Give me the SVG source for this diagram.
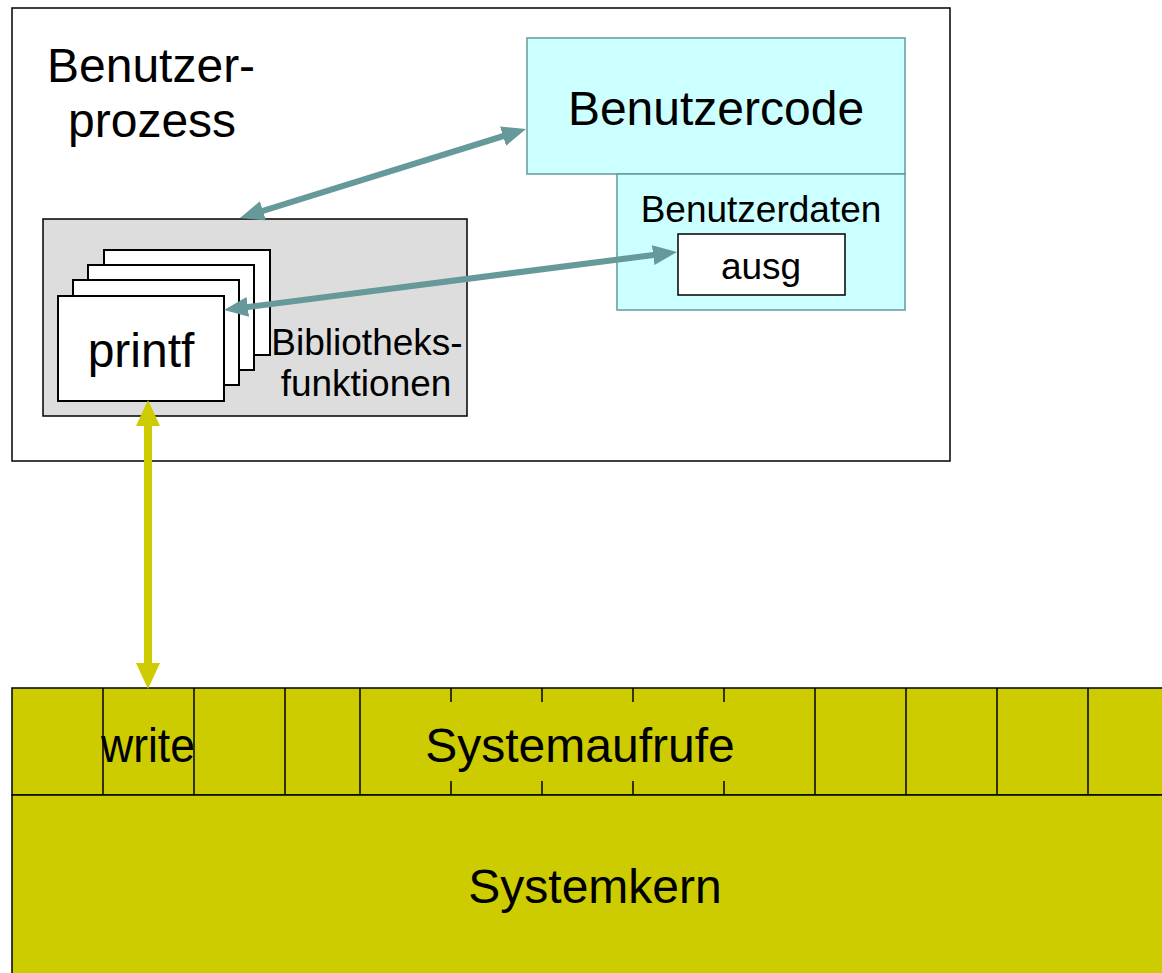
<svg xmlns="http://www.w3.org/2000/svg" width="1162" height="973" viewBox="0 0 1162 973">
  <style>
    text { font-family: "Liberation Sans", Arial, sans-serif; fill: #000; }
    .big { font-size: 48px; }
    .mid { font-size: 37px; }
    .frame { fill: #fff; stroke: #000; stroke-width: 1.5; }
    .mem { fill: #ccffff; stroke: #669999; stroke-width: 1.5; }
    .lib { fill: #dddddd; stroke: #000; stroke-width: 1.5; }
    .card { fill: #fff; stroke: #000; stroke-width: 2; }
    .sys { fill: #cccc00; stroke: #000; stroke-width: 1.5; }
    .div { stroke: #000; stroke-width: 1.5; }
    .teal { stroke: #669999; stroke-width: 6; fill: none; }
    .yellow { stroke: #cccc00; stroke-width: 8; fill: none; }
  </style>
  <defs>
    <marker id="headTeal" markerUnits="userSpaceOnUse" markerWidth="24" markerHeight="20" refX="12" refY="10" orient="auto-start-reverse">
      <path d="M0,0 L24,10 L0,20 z" fill="#669999"/>
    </marker>
    <marker id="headYellow" markerUnits="userSpaceOnUse" markerWidth="26" markerHeight="24" refX="13" refY="12" orient="auto-start-reverse">
      <path d="M0,0 L26,12 L0,24 z" fill="#cccc00"/>
    </marker>
  </defs>

  <!-- user process frame -->
  <g id="benutzerprozess">
    <rect class="frame" x="12" y="8" width="938" height="453"/>
    <text class="big" x="47" y="82">Benutzer-</text>
    <text class="big" x="68" y="137">prozess</text>
  </g>

  <g id="benutzercode">
    <rect class="mem" x="527" y="38" width="378" height="136"/>
    <text class="big" x="716" y="125" text-anchor="middle">Benutzercode</text>
  </g>

  <g id="benutzerdaten">
    <rect class="mem" x="617" y="174" width="288" height="136"/>
    <text class="mid" x="761" y="222" text-anchor="middle">Benutzerdaten</text>
  </g>

  <g id="ausg">
    <rect x="678" y="234" width="167" height="61" fill="#fff" stroke="#000" stroke-width="1.5"/>
    <text class="mid" x="761" y="279" text-anchor="middle">ausg</text>
  </g>

  <!-- library functions with stacked cards -->
  <g id="bibliotheksfunktionen">
    <rect class="lib" x="43" y="219" width="424" height="197"/>
    <rect class="card" x="104" y="250" width="166" height="105"/>
    <rect class="card" x="88" y="265" width="166" height="105"/>
    <rect class="card" x="73" y="280" width="166" height="105"/>
    <text class="mid" x="367" y="355" text-anchor="middle">Bibliotheks-</text>
    <text class="mid" x="366" y="396" text-anchor="middle">funktionen</text>
  </g>

  <g id="printf">
    <rect class="card" x="58" y="296" width="166" height="105"/>
    <text class="big" x="141" y="367" text-anchor="middle">printf</text>
  </g>

  <!-- system call table -->
  <g id="systemaufrufe">
    <rect class="sys" x="12" y="688" width="1160" height="107"/>
    <line class="div" x1="103" y1="688" x2="103" y2="795"/>
    <line class="div" x1="194" y1="688" x2="194" y2="795"/>
    <line class="div" x1="285" y1="688" x2="285" y2="795"/>
    <line class="div" x1="360" y1="688" x2="360" y2="795"/>
    <line class="div" x1="451" y1="688" x2="451" y2="702"/>
    <line class="div" x1="451" y1="781" x2="451" y2="795"/>
    <line class="div" x1="542" y1="688" x2="542" y2="702"/>
    <line class="div" x1="542" y1="781" x2="542" y2="795"/>
    <line class="div" x1="633" y1="688" x2="633" y2="702"/>
    <line class="div" x1="633" y1="781" x2="633" y2="795"/>
    <line class="div" x1="724" y1="688" x2="724" y2="702"/>
    <line class="div" x1="724" y1="781" x2="724" y2="795"/>
    <line class="div" x1="815" y1="688" x2="815" y2="795"/>
    <line class="div" x1="906" y1="688" x2="906" y2="795"/>
    <line class="div" x1="997" y1="688" x2="997" y2="795"/>
    <line class="div" x1="1088" y1="688" x2="1088" y2="795"/>
    <text class="big" x="580" y="762" text-anchor="middle">Systemaufrufe</text>
  </g>

  <g id="write">
    <text class="big" x="148" y="762" text-anchor="middle" textLength="94" lengthAdjust="spacingAndGlyphs">write</text>
  </g>

  <g id="systemkern">
    <rect class="sys" x="12" y="795" width="1160" height="190"/>
    <text class="big" x="595" y="903" text-anchor="middle">Systemkern</text>
  </g>

  <!-- connectors -->
  <g id="connectors">
    <line class="teal" x1="251.5" y1="214.4" x2="514.5" y2="132.6" marker-start="url(#headTeal)" marker-end="url(#headTeal)"/>
    <line class="teal" x1="235.9" y1="308.5" x2="665.1" y2="253.5" marker-start="url(#headTeal)" marker-end="url(#headTeal)"/>
    <line class="yellow" x1="148" y1="413" x2="148" y2="676" marker-start="url(#headYellow)" marker-end="url(#headYellow)"/>
  </g>
</svg>
